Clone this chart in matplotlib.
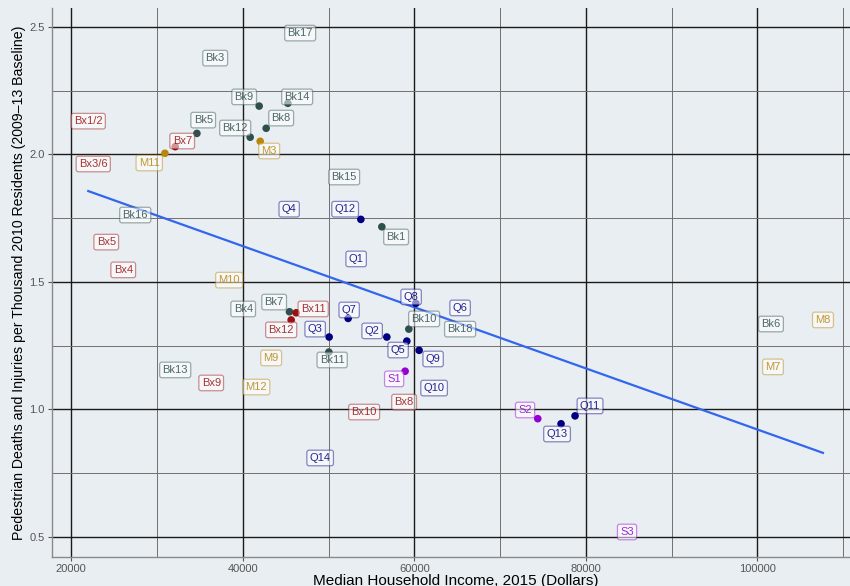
import numpy as np
import matplotlib
matplotlib.use("Agg")
import matplotlib.pyplot as plt
from matplotlib.ticker import MultipleLocator

plt.rcParams["font.family"] = ["Liberation Sans", "DejaVu Sans"]

# community district labels: name, borough, label position (income, rate)
label_names = ["Bk17", "Bk3", "Bk9", "Bk14", "Bx1/2", "Bk5", "Bk8", "Bk12", "Bx7", "M3",
               "M11", "Bx3/6", "Bk15", "Q4", "Q12", "Bk16", "Bk1", "Bx5", "Q1", "Bx4",
               "M10", "Q8", "Bk7", "Q6", "Bk4", "Bx11", "Q7", "Bk10", "Bk18", "Bx12",
               "Q3", "Q2", "Q5", "Bk11", "Q9", "Bk6", "M8", "M9", "M7", "Bk13",
               "S1", "Bx9", "M12", "Q10", "Bx8", "Bx10", "S2", "Q11", "Q13", "Q14", "S3"]
label_x = [46690, 36783, 40163, 46340, 21981, 35385, 44476, 39114, 32937, 43077,
           29091, 22564, 51818, 45408, 51935, 27459, 57879, 24079, 53217, 26061,
           38415, 59627, 43660, 65338, 40047, 48205, 52401, 61142, 65338, 44476,
           48438, 55082, 58112, 50420, 62191, 101585, 107646, 43310, 101818, 32121,
           57646, 36317, 41562, 62308, 58811, 54149, 72914, 80489, 76643, 49021, 84802]
label_y = [2.475, 2.377, 2.225, 2.225, 2.130, 2.134, 2.142, 2.103, 2.052, 2.013,
           1.966, 1.962, 1.911, 1.785, 1.785, 1.762, 1.676, 1.656, 1.590, 1.547,
           1.507, 1.441, 1.421, 1.398, 1.394, 1.394, 1.390, 1.355, 1.315, 1.312,
           1.315, 1.308, 1.233, 1.194, 1.198, 1.335, 1.351, 1.202, 1.167, 1.155,
           1.120, 1.104, 1.088, 1.084, 1.029, 0.990, 0.998, 1.014, 0.904, 0.810, 0.520]

# plotted points (where not hidden under a label)
point_boro = ["Bk", "Bk", "Bk", "Bk", "Bk", "M", "M", "Bx", "Q", "Bk",
              "Bk", "Bx", "Bx", "Q", "Q", "Q", "Bk", "Q", "Bk", "Q",
              "S", "Q", "S", "Q", "Q"]
point_x = [41911, 45256, 34650, 42727, 40862, 42028, 30921, 32121, 53765, 56212,
           45443, 46224, 45641, 50070, 52284, 56795, 59359, 59126, 50035, 60559,
           58928, 60175, 74394, 77110, 78741]
point_y = [2.189, 2.200, 2.082, 2.102, 2.067, 2.051, 2.004, 2.030, 1.745, 1.716,
           1.383, 1.379, 1.351, 1.284, 1.357, 1.284, 1.315, 1.268, 1.225, 1.232,
           1.150, 1.416, 0.964, 0.944, 0.975]

# linear fit endpoints
fit_x = [21981, 107646]
fit_y = [1.856, 0.830]

boro_colors = {"Bx": "#9b1010", "Bk": "#2f4f4f", "M": "#b8860b",
               "Q": "#000080", "S": "#9400d3"}


def boro_of(name):
    for key in ["Bx", "Bk", "M", "Q", "S"]:
        if name.startswith(key):
            return key


bg = "#e9eef2"
fig = plt.figure(figsize=(8.5, 5.86), dpi=100, facecolor=bg)
ax = fig.add_axes([0.0606, 0.0495, 0.9508, 0.9367], facecolor=bg)

ax.set_xlim(17698, 111929)
ax.set_ylim(0.422, 2.573)
ax.xaxis.set_major_locator(MultipleLocator(20000))
ax.xaxis.set_minor_locator(MultipleLocator(10000))
ax.yaxis.set_major_locator(MultipleLocator(0.5))
ax.yaxis.set_minor_locator(MultipleLocator(0.25))
ax.grid(which="major", color="#1a1a1a", linewidth=1.0)
ax.grid(which="minor", color="#707070", linewidth=0.7)
ax.set_axisbelow(True)
ax.yaxis.set_major_formatter(lambda v, p: f"{v:.1f}")
ax.xaxis.set_major_formatter(lambda v, p: f"{int(v)}")
ax.tick_params(which="major", length=3, color="#555555", labelcolor="#555555",
               labelsize=8, pad=2)
ax.tick_params(which="minor", length=0)
for side in ["top", "right"]:
    ax.spines[side].set_visible(False)
for side in ["left", "bottom"]:
    ax.spines[side].set_color("#8a8a8a")
    ax.spines[side].set_linewidth(1.0)

ax.plot(fit_x, fit_y, color="#3366ee", linewidth=1.6, zorder=2)

ax.scatter(point_x, point_y, s=30, c=[boro_colors[b] for b in point_boro],
           edgecolors="none", zorder=3)

for name, x, y in zip(label_names, label_x, label_y):
    col = boro_colors[boro_of(name)]
    ax.text(x, y, name, ha="center", va="center", fontsize=8, color=col,
            alpha=0.85, zorder=4,
            bbox=dict(boxstyle="round,pad=0.25,rounding_size=0.2",
                      facecolor=(1, 1, 1, 0.55),
                      edgecolor=matplotlib.colors.to_rgba(col, 0.45),
                      linewidth=0.9))

ax.set_xlabel("Median Household Income, 2015 (Dollars)", fontsize=11, labelpad=0)
ax.set_ylabel("Pedestrian Deaths and Injuries per Thousand 2010 Residents (2009\u201313 Baseline)",
              fontsize=10.2, labelpad=2)

fig.savefig("out.png", dpi=100, facecolor=bg)
